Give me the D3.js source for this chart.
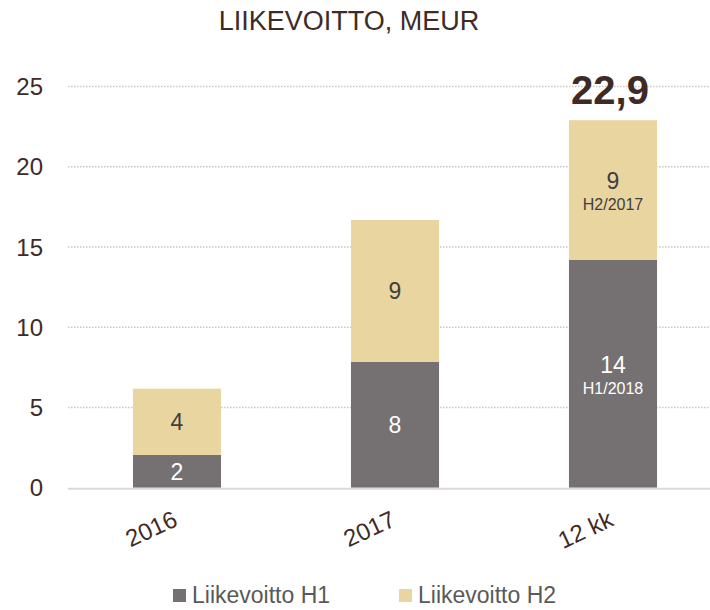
<!DOCTYPE html>
<html>
<head>
<meta charset="utf-8">
<script src="https://cdn.jsdelivr.net/npm/d3@7"></script>
<style>
  body { margin: 0; background: #fff; }
  text { font-family: "Liberation Sans", Arial, sans-serif; }
</style>
</head>
<body>
<svg id="chart"></svg>
<script>
const categories = ['2016', '2017', '12 kk'];
const h1Values = [2.04, 7.85, 14.19];
const h2Values = [4.13, 8.83, 8.71];
const h1Sub = ['', '', 'H1/2018'];
const h2Sub = ['', '', 'H2/2017'];
const totalLabels = ['', '', '22,9'];
const yTicks = [0, 5, 10, 15, 20, 25];
const seriesNames = ['Liikevoitto H1', 'Liikevoitto H2'];

const W = 710, H = 610;
const brown = '#3f2b25';
const colors = ['#757172', '#e9d5a0'];

const svg = d3.select('#chart').attr('width', W).attr('height', H);

const x = d3.scaleBand()
  .domain(categories)
  .range([68, 722])
  .paddingInner(0.596)
  .paddingOuter(0.298);

const y = d3.scaleLinear()
  .domain([0, 25])
  .range([487.7, 86.5]);

// title
svg.append('text')
  .attr('x', 349).attr('y', 30)
  .attr('text-anchor', 'middle')
  .attr('fill', brown)
  .style('font-size', '27px')
  .text('LIIKEVOITTO, MEUR');

// gridlines
svg.append('g').selectAll('line')
  .data(yTicks.filter(d => d > 0))
  .enter().append('line')
  .attr('x1', 68).attr('x2', W)
  .attr('y1', d => y(d)).attr('y2', d => y(d))
  .attr('stroke', '#c8c8c8')
  .attr('stroke-width', 1.5)
  .attr('stroke-dasharray', '1.5,1.5');

// y tick labels
svg.append('g').selectAll('text')
  .data(yTicks)
  .enter().append('text')
  .attr('x', 43).attr('y', d => y(d))
  .attr('dy', '0.36em')
  .attr('text-anchor', 'end')
  .attr('fill', brown)
  .style('font-size', '24px')
  .text(d => d);

const data = categories.map((c, i) => ({
  cat: c, h1: h1Values[i], h2: h2Values[i],
  sub1: h1Sub[i], sub2: h2Sub[i], total: totalLabels[i]
}));

const stack = d3.stack().keys(['h1', 'h2'])(data);

const fmt = d3.format('.0f');

stack.forEach(function (layer, li) {
  const g = svg.append('g');
  g.selectAll('rect')
    .data(layer)
    .enter().append('rect')
    .attr('x', d => x(d.data.cat))
    .attr('width', x.bandwidth())
    .attr('y', d => y(d[1]))
    .attr('height', d => y(d[0]) - y(d[1]))
    .attr('fill', colors[li]);

  const txtColor = li === 0 ? '#ffffff' : '#404040';
  const subKey = li === 0 ? 'sub1' : 'sub2';
  const valKey = li === 0 ? 'h1' : 'h2';

  g.selectAll('text.val')
    .data(layer)
    .enter().append('text')
    .attr('class', 'val')
    .attr('x', d => x(d.data.cat) + x.bandwidth() / 2)
    .attr('y', d => (y(d[0]) + y(d[1])) / 2 + (d.data[subKey] ? -9 : 0))
    .attr('dy', '0.36em')
    .attr('text-anchor', 'middle')
    .attr('fill', txtColor)
    .style('font-size', '23px')
    .text(d => fmt(d.data[valKey]));

  g.selectAll('text.sub')
    .data(layer.filter(d => d.data[subKey]))
    .enter().append('text')
    .attr('class', 'sub')
    .attr('x', d => x(d.data.cat) + x.bandwidth() / 2)
    .attr('y', d => (y(d[0]) + y(d[1])) / 2 + 14)
    .attr('dy', '0.36em')
    .attr('text-anchor', 'middle')
    .attr('fill', txtColor)
    .style('font-size', '16px')
    .text(d => d.data[subKey]);
});

// zero line
svg.append('line')
  .attr('x1', 68).attr('x2', W)
  .attr('y1', y(0) + 1).attr('y2', y(0) + 1)
  .attr('stroke', '#d9d9d9')
  .attr('stroke-width', 2);

// total label
svg.append('g').selectAll('text')
  .data(data.filter(d => d.total))
  .enter().append('text')
  .attr('x', d => x(d.cat) + x.bandwidth() / 2 - 3)
  .attr('y', d => y(d.h1 + d.h2) - 16)
  .attr('text-anchor', 'middle')
  .attr('fill', brown)
  .style('font-size', '40px')
  .style('font-weight', 'bold')
  .text(d => d.total);

// x labels
svg.append('g').selectAll('text')
  .data(categories)
  .enter().append('text')
  .attr('transform', d => `translate(${x(d) + x.bandwidth() / 2 + 2},525) rotate(-25)`)
  .attr('text-anchor', 'end')
  .attr('fill', brown)
  .style('font-size', '24px')
  .text(d => d);

// legend
const legX = [173, 399];
const leg = svg.append('g').selectAll('g')
  .data(seriesNames)
  .enter().append('g')
  .attr('transform', (d, i) => `translate(${legX[i]},589)`);
leg.append('rect')
  .attr('width', 13).attr('height', 13)
  .attr('fill', (d, i) => colors[i]);
leg.append('text')
  .attr('x', 19).attr('y', 14)
  .attr('fill', '#595959')
  .style('font-size', '23px')
  .text(d => d);
</script>
</body>
</html>
